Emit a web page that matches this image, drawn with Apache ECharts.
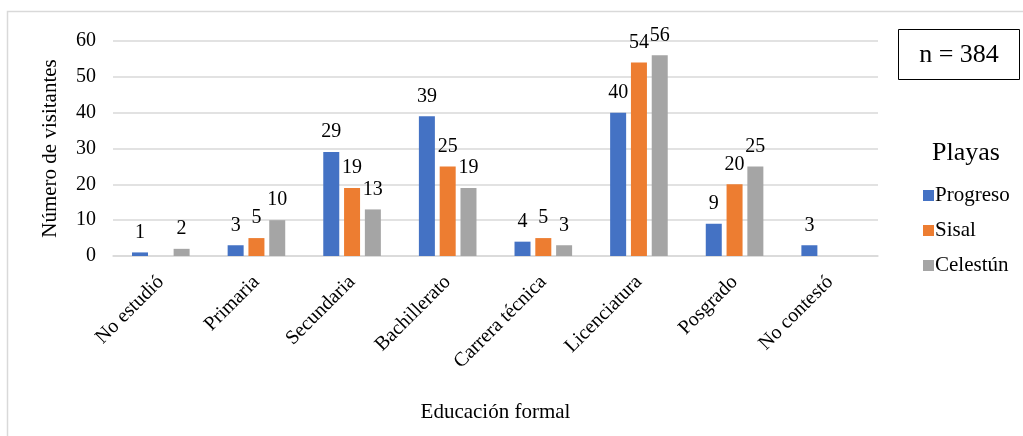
<!DOCTYPE html>
<html>
<head>
<meta charset="utf-8">
<script src="https://cdn.jsdelivr.net/npm/echarts@6/dist/echarts.min.js"></script>
<style>
  html, body { margin: 0; padding: 0; background: #fff; }
  #chart { width: 1023px; height: 436px; }
</style>
</head>
<body>
<div id="chart"></div>
<script>
// Education level of beach visitors, by beach
const categories = ['No estudió', 'Primaria', 'Secundaria', 'Bachillerato', 'Carrera técnica', 'Licenciatura', 'Posgrado', 'No contestó'];
const progreso = [1, 3, 29, 39, 4, 40, 9, 3];
const sisal = [0, 5, 19, 25, 5, 54, 20, 0];
const celestun = [2, 10, 13, 19, 3, 56, 25, 0];
const yTicks = { min: 0, max: 60, interval: 10 };

const FONT = "'Liberation Serif', 'Times New Roman', serif";
const colors = ['#4472C4', '#ED7D31', '#A5A5A5'];

function barSeries(name, values, color) {
  return {
    name: name,
    type: 'bar',
    data: values,
    barWidth: 16,
    barGap: '30%',
    itemStyle: { color: color },
    label: {
      show: true,
      position: 'top',
      distance: 10,
      fontFamily: FONT,
      fontSize: 20,
      color: '#000',
      formatter: p => (p.value === 0 ? '' : String(p.value))
    }
  };
}

const chart = echarts.init(document.getElementById('chart'));
chart.setOption({
  animation: false,
  textStyle: { fontFamily: FONT },
  grid: { left: 113, right: 145, top: 41, bottom: 180 },
  legend: {
    orient: 'vertical',
    left: 918,
    top: 180,
    icon: 'rect',
    itemWidth: 11,
    itemHeight: 11,
    itemGap: 14,
    textStyle: { fontFamily: FONT, fontSize: 21, color: '#000', padding: [0, 0, 0, -4] }
  },
  xAxis: {
    type: 'category',
    data: categories,
    name: 'Educación formal',
    nameLocation: 'middle',
    nameGap: 146,
    nameTextStyle: { fontFamily: FONT, fontSize: 21, color: '#000' },
    axisLine: { lineStyle: { color: '#d9d9d9', width: 1.5 } },
    axisTick: { show: false },
    axisLabel: {
      rotate: 45,
      margin: 23,
      fontFamily: FONT,
      fontSize: 20,
      color: '#000',
      interval: 0
    }
  },
  yAxis: {
    type: 'value',
    min: yTicks.min,
    max: yTicks.max,
    interval: yTicks.interval,
    name: 'Número de visitantes',
    nameLocation: 'middle',
    nameGap: 52,
    nameTextStyle: { fontFamily: FONT, fontSize: 21, color: '#000' },
    axisLine: { show: false },
    axisTick: { show: false },
    axisLabel: { margin: 17, fontFamily: FONT, fontSize: 20, color: '#000' },
    splitLine: { lineStyle: { color: '#d9d9d9', width: 1.5 } }
  },
  graphic: [
    {
      type: 'rect',
      shape: { x: 7.5, y: 11.5, width: 1030, height: 440 },
      style: { fill: 'none', stroke: '#d9d9d9', lineWidth: 1.5 },
      silent: true,
      z: -1
    },
    {
      type: 'rect',
      shape: { x: 898.5, y: 29.5, width: 121, height: 50 },
      style: { fill: '#fff', stroke: '#000', lineWidth: 1 }
    },
    {
      type: 'text',
      x: 959,
      y: 55,
      style: {
        text: 'n = 384',
        fontFamily: FONT,
        fontSize: 26,
        fill: '#000',
        align: 'center',
        verticalAlign: 'middle'
      }
    },
    {
      type: 'text',
      x: 966,
      y: 153,
      style: {
        text: 'Playas',
        fontFamily: FONT,
        fontSize: 26,
        fill: '#000',
        align: 'center',
        verticalAlign: 'middle'
      }
    }
  ],
  series: [
    barSeries('Progreso', progreso, colors[0]),
    barSeries('Sisal', sisal, colors[1]),
    barSeries('Celestún', celestun, colors[2])
  ]
});
</script>
</body>
</html>
